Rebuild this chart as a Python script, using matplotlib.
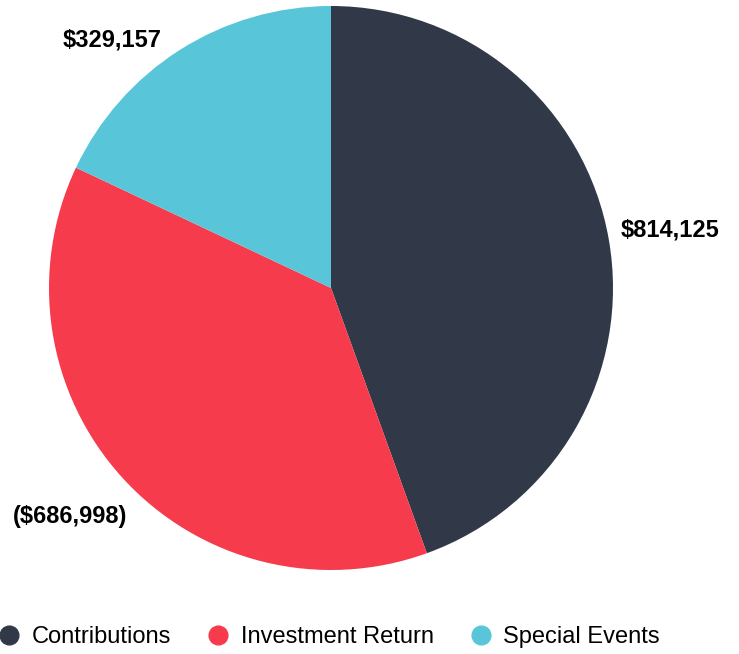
import numpy as np
import matplotlib
matplotlib.use('Agg')
import matplotlib.pyplot as plt
from matplotlib.lines import Line2D

# data
categories = ['Contributions', 'Investment Return', 'Special Events']
values = [814125, -686998, 329157]
colors = ['#313949', '#F53B4C', '#58C6D8']

def money(v):
    s = f"${abs(v):,.0f}"
    return f"({s})" if v < 0 else s

plt.rcParams['font.family'] = ['Liberation Sans', 'DejaVu Sans']

W, H = 739, 654
fig = plt.figure(figsize=(W / 100, H / 100), dpi=100)
ax = fig.add_axes([0, 0, 1, 1])

cx, cy, r = 331, H - 288, 282
wedges, _ = ax.pie([abs(v) for v in values], colors=colors, startangle=90,
                   counterclock=False, center=(cx, cy), radius=r,
                   wedgeprops=dict(linewidth=0), frame=True)
ax.set_xlim(0, W)
ax.set_ylim(0, H)
ax.axis('off')

# label offsets from the arc point at each wedge's mid angle (points)
offsets = [(44, 6.5), (-37.5, -28), (-49, 7)]
for w, v, off in zip(wedges, values, offsets):
    mid = np.deg2rad((w.theta1 + w.theta2) / 2)
    xy = (cx + r * np.cos(mid), cy + r * np.sin(mid))
    ax.annotate(money(v), xy=xy, xytext=off, textcoords='offset points',
                ha='center', va='center', fontsize=17, fontweight='bold',
                color='black')

handles = [Line2D([], [], linestyle='none', marker='o', markersize=13.5,
                  markerfacecolor=c, markeredgecolor=c) for c in colors]
fig.legend(handles, categories, loc='center', bbox_to_anchor=(330 / W, 1 - 637 / H),
           ncol=3, frameon=False, fontsize=17, handlelength=0.8,
           handletextpad=0.55, columnspacing=1.6, borderpad=0, borderaxespad=0)

fig.savefig('out.png', dpi=100)
